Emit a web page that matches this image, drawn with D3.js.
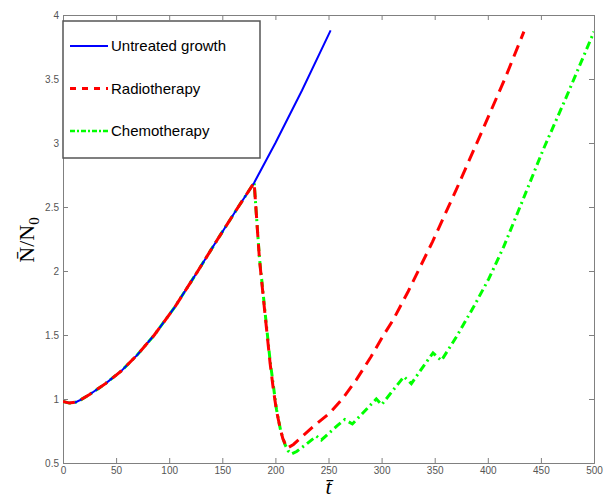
<!DOCTYPE html>
<html>
<head>
<meta charset="utf-8">
<script src="https://cdn.jsdelivr.net/npm/d3@7"></script>
<style>
body{margin:0;background:#fff;}
#canvas{width:605px;height:500px;}
.axis path,.axis line{stroke:#808080;}
.axis text{fill:#555;font-family:"Liberation Sans",Arial,sans-serif;font-size:10px;}
</style>
</head>
<body>
<div id="canvas"></div>
<script>
// tick labels
var xTicks = [0,50,100,150,200,250,300,350,400,450,500];
var yTicks = [0.5,1,1.5,2,2.5,3,3.5,4];

// untreated growth
var untreatedT = [0,6,12,17,25,40,55,70,86,105,127,145,165,180,200,225,252];
var untreatedN = [0.98,0.968,0.975,0.995,1.035,1.12,1.22,1.345,1.5,1.715,2.0,2.24,2.5,2.69,3.0,3.41,3.88];

// radiotherapy (after t=180)
var radioT = [182,185,190,195,198,201,204,207,211,217,223,235,251,263,276,290,301,311,325,348,370,395,417,434];
var radioN = [2.45,2.09,1.68,1.28,1.08,0.91,0.79,0.69,0.615,0.645,0.69,0.78,0.89,1.0,1.148,1.33,1.487,1.62,1.84,2.23,2.63,3.1,3.52,3.87];

// chemotherapy (after t=180)
var chemoT = [182,185,190,195,201,205,209,212,215,220,228,238.6,243.3,250,258,265.3,272.5,280,288,295,300,310,321,328,338,348.4,356.3,370,386,401,415,433,452,474,500];
var chemoN = [2.45,2.1,1.7,1.3,0.92,0.75,0.645,0.595,0.57,0.59,0.64,0.71,0.68,0.73,0.79,0.84,0.805,0.87,0.94,1.0,0.955,1.06,1.175,1.12,1.24,1.36,1.3,1.48,1.71,1.94,2.19,2.555,2.945,3.36,3.87];

var legendNames = ['Untreated growth','Radiotherapy','Chemotherapy'];

var margin = {t:15,r:11,b:37,l:63};
var width = 605 - margin.l - margin.r,
    height = 500 - margin.t - margin.b;

var svg = d3.select('#canvas')
    .append('svg')
    .attr('width',605)
    .attr('height',500);
var plot = svg.append('g')
    .attr('transform','translate('+margin.l+','+margin.t+')');

var x = d3.scaleLinear().domain([0,500]).range([0,width]);
var y = d3.scaleLinear().domain([0.5,4]).range([height,0]);

//axes, ticks pointing inward on all four sides
plot.append('g').attr('class','axis')
    .attr('transform','translate(0,'+height+')')
    .call(d3.axisBottom(x).tickValues(xTicks).tickSize(-5).tickPadding(4).tickFormat(d3.format('')));
plot.append('g').attr('class','axis')
    .call(d3.axisTop(x).tickValues(xTicks).tickSize(-5).tickFormat(''));
plot.append('g').attr('class','axis')
    .call(d3.axisLeft(y).tickValues(yTicks).tickSize(-5).tickPadding(4).tickFormat(d3.format('')));
plot.append('g').attr('class','axis')
    .attr('transform','translate('+width+',0)')
    .call(d3.axisRight(y).tickValues(yTicks).tickSize(-5).tickFormat(''));
plot.selectAll('.axis .domain').attr('stroke','#808080');

//build the series: treated ones share the untreated curve up to t=180
var base = untreatedT.map(function(t,i){ return {t:t,n:untreatedN[i]}; });
var beforeTreat = base.filter(function(d){ return d.t<=180; });
var untreated = base;
var radio = beforeTreat.concat(radioT.map(function(t,i){ return {t:t,n:radioN[i]}; }));
var chemo = beforeTreat.concat(chemoT.map(function(t,i){ return {t:t,n:chemoN[i]}; }));

var line = d3.line()
    .x(function(d){ return x(d.t); })
    .y(function(d){ return y(d.n); });

var clip = plot.append('clipPath').attr('id','clip')
    .append('rect').attr('width',width).attr('height',height);

var lines = plot.append('g').attr('clip-path','url(#clip)');
lines.append('path').datum(chemo)
    .attr('d',line)
    .style('fill','none')
    .style('stroke','#00ff00')
    .style('stroke-width','3px')
    .style('stroke-dasharray','8,4,2,4');
lines.append('path').datum(untreated)
    .attr('d',line)
    .style('fill','none')
    .style('stroke','#0000ff')
    .style('stroke-width','2px');
lines.append('path').datum(radio)
    .attr('d',line)
    .style('fill','none')
    .style('stroke','#ff0000')
    .style('stroke-width','3px')
    .style('stroke-dasharray','12,7');

//legend
var lg = plot.append('g').attr('transform','translate(0,6)');
lg.append('rect')
    .attr('x',0).attr('y',0)
    .attr('width',197).attr('height',137)
    .style('fill','#fff')
    .style('stroke','#555')
    .style('stroke-width','1.5px');
var styles = [
    {c:'#0000ff',w:2,d:null},
    {c:'#ff0000',w:3,d:'6,6'},
    {c:'#00ff00',w:2.5,d:'5,2,2,2'}
];
legendNames.forEach(function(name,i){
    var yy = 25 + i*42.5;
    lg.append('line')
        .attr('x1',7).attr('x2',45)
        .attr('y1',yy).attr('y2',yy)
        .style('stroke',styles[i].c)
        .style('stroke-width',styles[i].w+'px')
        .style('stroke-dasharray',styles[i].d);
    lg.append('text')
        .attr('x',48).attr('y',yy+5)
        .text(name)
        .style('font-family','"Liberation Sans",Arial,sans-serif')
        .style('font-size','15px')
        .style('fill','#000');
});

//axis labels
svg.append('text')
    .attr('x',margin.l+width/2)
    .attr('y',494)
    .attr('text-anchor','middle')
    .style('font-family','"Liberation Serif","Times New Roman",serif')
    .style('font-size','22px')
    .style('font-style','italic')
    .text('t\u0304');

var yl = svg.append('text')
    .attr('transform','translate(34,240) rotate(-90)')
    .attr('text-anchor','middle')
    .style('font-family','"Liberation Serif","Times New Roman",serif')
    .style('font-size','22px');
yl.append('tspan').text('N\u0304/N');
yl.append('tspan').attr('dy',5).style('font-size','15px').text('0');
</script>
</body>
</html>
